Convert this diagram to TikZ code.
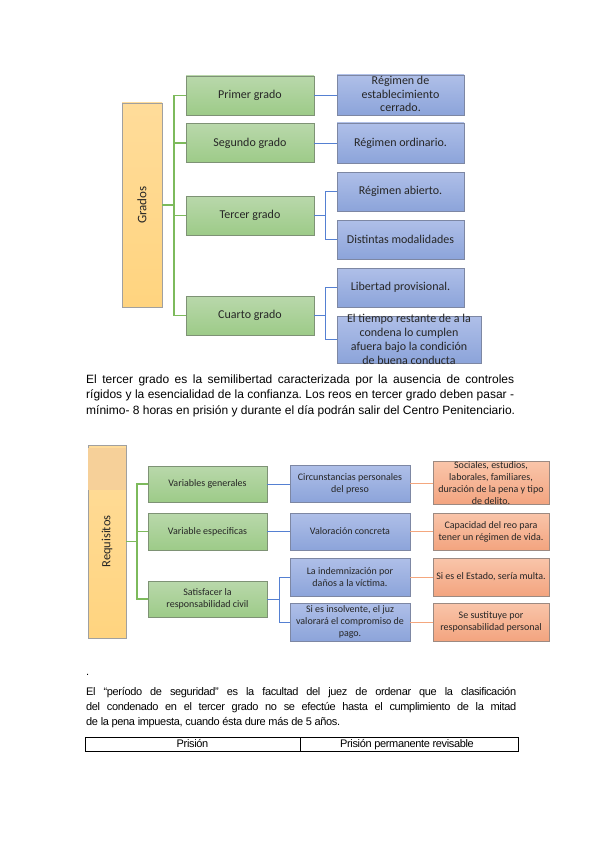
\documentclass[tikz,border=0pt]{standalone}
\usepackage{fontspec}
\setmainfont{Liberation Sans}
\newfontfamily\condfont[LetterSpace=-3.2]{Liberation Sans}
\newfontfamily\calfont{Carlito}
\definecolor{grtop}{HTML}{B9D8AB}
\definecolor{grbot}{HTML}{9DCB88}
\definecolor{grborder}{HTML}{7E9275}
\definecolor{bltop}{HTML}{AFBFE8}
\definecolor{blbot}{HTML}{8CA4DA}
\definecolor{blborder}{HTML}{7D87A3}
\definecolor{ortop}{HTML}{F9C5AA}
\definecolor{orbot}{HTML}{F3A47F}
\definecolor{orborder}{HTML}{9C8A82}
\definecolor{yetop}{HTML}{FFDC9A}
\definecolor{yebot}{HTML}{FFD47F}
\definecolor{yeborder}{HTML}{A0A0A0}
\definecolor{yeband}{HTML}{F6D099}
\definecolor{grline}{HTML}{7DBA5C}
\definecolor{blline}{HTML}{5580D2}
\definecolor{orline}{HTML}{F4A77E}
\definecolor{txtgray}{HTML}{262626}
\begin{document}
\frenchspacing
\begin{tikzpicture}[x=1pt,y=-1pt,
  box/.style={line width=0.6pt, inner sep=1pt, align=center, text=txtgray},
  bigfont/.style={font=\calfont\fontsize{12}{14}\selectfont},
  smallfont/.style={font=\calfont\fontsize{10}{12}\selectfont},
  grbox/.style={box, draw=grborder, top color=grtop, bottom color=grbot},
  blbox/.style={box, draw=blborder, top color=bltop, bottom color=blbot},
  orbox/.style={box, draw=orborder, top color=ortop, bottom color=orbot},
  yebox/.style={box, draw=yeborder, top color=yetop, bottom color=yebot},
  dA/.style={minimum width=128, minimum height=39, bigfont},
  dB/.style={minimum width=127, minimum height=39, bigfont},
  dC/.style={minimum width=119, minimum height=36, smallfont},
  dD/.style={minimum width=120, minimum height=37, smallfont},
  dE/.style={minimum width=116, minimum height=38, smallfont},
  txtlabel/.style={inner sep=0, align=center, text=txtgray},
  gconn/.style={draw=grline, line width=1.3pt},
  bconn/.style={draw=blline, line width=1pt},
  oconn/.style={draw=orline, line width=1pt},
  paraA/.style={inner sep=0, anchor=base west, font=\fontsize{12}{14}\selectfont},
  paraB/.style={inner sep=0, anchor=base west, font=\condfont\fontsize{11}{13}\selectfont},
]
\useasboundingbox (0,0) rectangle (599,848);
\fill[white] (0,0) rectangle (599,848);

% ---------- Diagram 1 ----------
\node[yebox, minimum width=40, minimum height=204] (grados) at (142,205) {};
\node[txtlabel, rotate=90, font=\calfont\fontsize{13}{15}\selectfont] (gradost) at (grados.center) {Grados};

\node[grbox, dA] (g1) at (250,95.5) {Primer grado};
\node[grbox, dA] (g2) at (250,143) {Segundo grado};
\node[grbox, dA] (g3) at (250,215.5) {Tercer grado};
\node[grbox, dA] (g4) at (250,315.5) {Cuarto grado};

\node[blbox, dB, minimum height=40] (b1) at (400.5,95) {};
\node[txtlabel, font=\calfont\fontsize{12}{13.6}\selectfont] (b1t) at (400.5,94) {Régimen de\\establecimiento\\cerrado.};
\node[blbox, dB, minimum height=40] (b2) at (400.5,143) {Régimen ordinario.};
\node[blbox, dB] (b3) at (400.5,191.5) {Régimen abierto.};
\node[blbox, dB] (b4) at (400.5,239.5) {Distintas modalidades};
\node[blbox, dB] (b5) at (400.5,287.5) {Libertad provisional.};
\node[blbox, minimum width=144, minimum height=47] (b6) at (409,339.5) {};
\node[txtlabel, font=\calfont\fontsize{12}{14.1}\selectfont] (b6t) at (409,339.5) {El tiempo restante de a la\\condena lo cumplen\\afuera bajo la condición\\de buena conducta};

\coordinate (gj) at (174,205);
\draw[gconn] (grados.east) -- (gj);
\draw[gconn] (gj) |- (g1.west);
\draw[gconn] (gj) |- (g2.west);
\draw[gconn] (gj) |- (g3.west);
\draw[gconn] (gj) |- (g4.west);

\draw[bconn] (g1.east) -- (b1.west |- g1.east);
\draw[bconn] (g2.east) -- (b2.west);
\coordinate (bj3) at (325,215.5);
\draw[bconn] (g3.east) -- (bj3);
\draw[bconn] (bj3) |- (b3.west);
\draw[bconn] (bj3) |- (b4.west);
\coordinate (bj4) at (325,315.5);
\draw[bconn] (g4.east) -- (bj4);
\draw[bconn] (bj4) |- (b5.west);
\draw[bconn] (bj4) |- (b6.west);

% ---------- Paragraph 1 ----------
\node[paraA] (p1a) at (86,383) {\hbox to 428pt{El tercer grado es la semilibertad caracterizada por la ausencia de controles}};
\node[paraA] (p1b) at (86,398.9) {\hbox to 428pt{rígidos y la esencialidad de la confianza. Los reos en tercer grado deben pasar -}};
\node[paraA] (p1c) at (86,414.7) {mínimo- 8 horas en prisión y durante el día podrán salir del Centro Penitenciario.};

% ---------- Diagram 2 ----------
\node[yebox, minimum width=38, minimum height=193] (req) at (107,541.5) {};
\fill[yeband] (88.4,448) rectangle (125.6,490);
\node[txtlabel, rotate=90, font=\calfont\fontsize{12.5}{15}\selectfont] (reqt) at (req.center) {Requisitos};

\node[grbox, dC] (v1) at (207.5,484) {Variables generales};
\node[grbox, dC, minimum height=37] (v2) at (207.5,531.5) {Variable especificas};
\node[grbox, dC] (v3) at (207.5,599) {Satisfacer la\\responsabilidad civil};

\node[blbox, dD] (c1) at (350,483.5) {Circunstancias personales\\del preso};
\node[blbox, dD] (c2) at (350,531.5) {Valoración concreta};
\node[blbox, dD, minimum height=38] (c3) at (350,577) {La indemnización por\\daños a la víctima.};
\node[blbox, dD, minimum height=38] (c4) at (350,622) {Si es insolvente, el juz\\valorará el compromiso de\\pago.};

\node[orbox, dE, minimum height=42, inner sep=0pt] (o1) at (491,483) {Sociales, estudios,\\laborales, familiares,\\duración de la pena y tipo\\de delito.};
\node[orbox, dE, minimum height=37] (o2) at (491,531.5) {Capacidad del reo para\\tener un régimen de vida.};
\node[orbox, dE] (o3) at (491,577) {Si es el Estado, sería multa.};
\node[orbox, dE] (o4) at (491,622) {Se sustituye por\\responsabilidad personal};

\coordinate (rj) at (137,541.5);
\draw[gconn, line width=1.1pt] (req.east) -- (rj);
\draw[gconn, line width=1.1pt] (rj) |- (v1.west);
\draw[gconn, line width=1.1pt] (rj) |- (v2.west);
\draw[gconn, line width=1.1pt] (rj) |- (v3.west);

\draw[bconn] (v1.east) -- (c1.west |- v1.east);
\draw[bconn] (v2.east) -- (c2.west);
\coordinate (vj) at (279,599);
\draw[bconn] (v3.east) -- (vj);
\draw[bconn] (vj) |- (c3.west);
\draw[bconn] (vj) |- (c4.west);

\draw[oconn] (c1.east) -- (o1.west |- c1.east);
\draw[oconn] (c2.east) -- (o2.west);
\draw[oconn] (c3.east) -- (o3.west);
\draw[oconn] (c4.east) -- (o4.west);

% ---------- Paragraph 2 ----------
\node[paraB] (dot) at (86,675) {.};
\node[paraB] (p2a) at (86,695.5) {\hbox to 430pt{El “período de seguridad” es la facultad del juez de ordenar que la clasificación}};
\node[paraB] (p2b) at (86,710.5) {\hbox to 430pt{del condenado en el tercer grado no se efectúe hasta el cumplimiento de la mitad}};
\node[paraB] (p2c) at (86,725) {de la pena impuesta, cuando ésta dure más de 5 años.};

% ---------- Table ----------
\node[draw=black, line width=0.8pt, minimum width=215, minimum height=13.5, inner sep=0, anchor=north west] (t1) at (85,737) {};
\node[draw=black, line width=0.8pt, minimum width=218, minimum height=13.5, inner sep=0, anchor=north west] (t2) at (300,737) {};
\node[paraB, anchor=base] (t1t) at (192.5,747.5) {Prisión};
\node[paraB, anchor=base] (t2t) at (407,747.5) {Prisión permanente revisable};
\end{tikzpicture}
\end{document}
